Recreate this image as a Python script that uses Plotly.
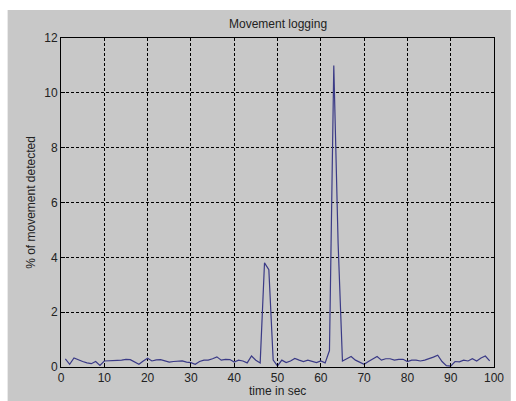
import plotly.graph_objects as go

# time in seconds
time_sec = list(range(1, 100))
# % of movement detected
movement = [
    0.30, 0.10, 0.33, 0.25, 0.20, 0.15, 0.12, 0.20, 0.06, 0.22,   # 1-10
    0.22, 0.22, 0.24, 0.25, 0.28, 0.27, 0.20, 0.10, 0.22, 0.32,   # 11-20
    0.22, 0.26, 0.27, 0.22, 0.18, 0.20, 0.20, 0.22, 0.18, 0.16,   # 21-30
    0.10, 0.20, 0.25, 0.25, 0.30, 0.37, 0.25, 0.28, 0.27, 0.18,   # 31-40
    0.25, 0.22, 0.15, 0.40, 0.25, 0.15, 3.80, 3.55, 0.25, 0.04,   # 41-50
    0.25, 0.16, 0.22, 0.31, 0.25, 0.20, 0.25, 0.20, 0.16, 0.22,   # 51-60
    0.15, 0.60, 11.0, 4.50, 0.22, 0.30, 0.38, 0.25, 0.18, 0.10,   # 61-70
    0.20, 0.30, 0.38, 0.25, 0.30, 0.30, 0.25, 0.28, 0.28, 0.20,   # 71-80
    0.25, 0.25, 0.22, 0.25, 0.30, 0.36, 0.43, 0.20, 0.05, 0.03,   # 81-90
    0.20, 0.19, 0.25, 0.22, 0.30, 0.22, 0.33, 0.40, 0.22,         # 91-99
]
x_ticks = [0, 10, 20, 30, 40, 50, 60, 70, 80, 90, 100]
y_ticks = [0, 2, 4, 6, 8, 10, 12]

title_text = "Movement logging"
x_title = "time in sec"
y_title = "% of movement detected"

W, H = 516, 401
L, R, T, B = 61, 17, 38, 34
pw, ph = W - L - R, H - T - B

fig = go.Figure()
fig.add_trace(go.Scatter(
    x=time_sec, y=movement, mode="lines",
    line=dict(color="#3a3a86", width=1.2),
    hoverinfo="skip", showlegend=False,
))

font = dict(family="Liberation Sans, Arial, sans-serif", size=12, color="#222222")
axis_common = dict(
    showline=True, linecolor="#000000", linewidth=1, mirror=True,
    showgrid=True, gridcolor="#000000", gridwidth=1, griddash="3px,2px",
    zeroline=False, ticks="inside", ticklen=4, tickcolor="#000000",
    tickfont=font,
)

fig.update_layout(
    width=W, height=H,
    margin=dict(l=L, r=R, t=T, b=B, pad=0),
    paper_bgcolor="#ffffff",
    plot_bgcolor="#ffffff",
    font=font,
    xaxis=dict(range=[0, 100], tickvals=x_ticks, **axis_common),
    yaxis=dict(range=[0, 12], tickvals=y_ticks, **axis_common),
    shapes=[dict(
        type="rect", xref="paper", yref="paper", layer="below",
        x0=(7 - L) / pw, x1=(W - L) / pw,
        y0=-B / ph, y1=(ph + T - 10) / ph,
        fillcolor="#c8c8c8", line=dict(width=0),
    )],
    annotations=[
        dict(text=title_text, xref="paper", yref="paper", x=0.5,
             y=(T - 24) / ph + 1, showarrow=False, yanchor="middle",
             font=font),
        dict(text=x_title, xref="paper", yref="paper", x=0.5,
             y=-(391 - (T + ph)) / ph, showarrow=False, yanchor="middle",
             font=font),
        dict(text=y_title, xref="paper", yref="paper", x=-(L - 30) / pw,
             y=0.5, showarrow=False, textangle=-90, xanchor="center",
             yanchor="middle", font=font),
    ],
)

fig.write_html(
    "out.html",
    config={"displayModeBar": False},
    post_script="document.body.style.margin='0';document.body.style.overflow='hidden';",
)
